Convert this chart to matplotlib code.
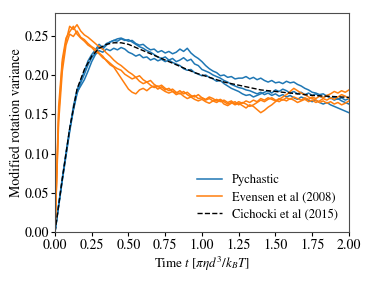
"""Modified rotation variance vs time: Pychastic runs, Evensen et al, Cichocki et al."""
import numpy as np
import matplotlib
matplotlib.use("Agg")
import matplotlib.pyplot as plt

plt.rcParams["font.family"] = ["STIXGeneral", "DejaVu Serif"]
plt.rcParams["mathtext.fontset"] = "stix"
plt.rcParams["font.size"] = 10

# time grid of the sampled trajectories (step 0.025)
t = np.linspace(0.0, 2.0, 81)

pychastic_1 = [
    0, 0.033, 0.066, 0.097, 0.128, 0.155, 0.176, 0.190, 0.201, 0.213, 0.222,
    0.228, 0.236, 0.233, 0.238, 0.242, 0.244, 0.246, 0.247, 0.245, 0.243,
    0.244, 0.240, 0.238, 0.239, 0.235, 0.232, 0.233, 0.229, 0.231, 0.228,
    0.230, 0.227, 0.229, 0.233, 0.230, 0.234, 0.228, 0.224, 0.221, 0.217,
    0.212, 0.208, 0.205, 0.203, 0.199, 0.200, 0.197, 0.198, 0.195, 0.196,
    0.196, 0.198, 0.195, 0.197, 0.194, 0.196, 0.193, 0.191, 0.193, 0.190,
    0.191, 0.189, 0.192, 0.190, 0.191, 0.188, 0.186, 0.183, 0.181, 0.178,
    0.177, 0.175, 0.176, 0.173, 0.171, 0.168, 0.170, 0.167, 0.165, 0.163,
]
pychastic_2 = [
    0, 0.035, 0.069, 0.101, 0.131, 0.156, 0.178, 0.186, 0.194, 0.205, 0.217,
    0.226, 0.231, 0.229, 0.233, 0.231, 0.234, 0.232, 0.235, 0.233, 0.229,
    0.227, 0.224, 0.226, 0.222, 0.223, 0.219, 0.221, 0.218, 0.220, 0.217,
    0.219, 0.216, 0.214, 0.212, 0.208, 0.206, 0.207, 0.203, 0.201, 0.199,
    0.200, 0.197, 0.195, 0.192, 0.193, 0.189, 0.186, 0.183, 0.181, 0.179,
    0.176, 0.174, 0.175, 0.172, 0.174, 0.176, 0.178, 0.180, 0.177, 0.181,
    0.179, 0.182, 0.180, 0.177, 0.179, 0.176, 0.178, 0.175, 0.177, 0.174,
    0.176, 0.173, 0.171, 0.174, 0.170, 0.172, 0.169, 0.171, 0.168, 0.170,
]
pychastic_3 = [
    0, 0.034, 0.067, 0.099, 0.130, 0.160, 0.181, 0.193, 0.205, 0.218, 0.226,
    0.232, 0.239, 0.235, 0.240, 0.242, 0.244, 0.243, 0.246, 0.244, 0.245,
    0.242, 0.239, 0.236, 0.234, 0.231, 0.229, 0.226, 0.223, 0.221, 0.223,
    0.219, 0.221, 0.217, 0.219, 0.222, 0.218, 0.220, 0.214, 0.212, 0.207,
    0.205, 0.203, 0.200, 0.198, 0.196, 0.193, 0.191, 0.188, 0.186, 0.184,
    0.183, 0.181, 0.180, 0.178, 0.176, 0.178, 0.175, 0.177, 0.174, 0.176,
    0.173, 0.175, 0.172, 0.174, 0.171, 0.169, 0.172, 0.170, 0.168, 0.166,
    0.168, 0.165, 0.163, 0.165, 0.162, 0.160, 0.158, 0.156, 0.154, 0.152,
]

evensen_1 = [
    0, 0.150, 0.215, 0.243, 0.262, 0.258, 0.264, 0.256, 0.251, 0.248, 0.244,
    0.240, 0.236, 0.233, 0.228, 0.224, 0.219, 0.215, 0.212, 0.208, 0.204,
    0.201, 0.197, 0.199, 0.194, 0.191, 0.193, 0.188, 0.185, 0.187, 0.183,
    0.180, 0.182, 0.178, 0.176, 0.179, 0.175, 0.172, 0.174, 0.170, 0.171,
    0.168, 0.170, 0.167, 0.169, 0.166, 0.168, 0.165, 0.167, 0.163, 0.166,
    0.164, 0.167, 0.165, 0.168, 0.166, 0.170, 0.168, 0.171, 0.169, 0.167,
    0.170, 0.168, 0.171, 0.169, 0.172, 0.170, 0.168, 0.171, 0.169, 0.172,
    0.170, 0.173, 0.171, 0.174, 0.176, 0.179, 0.177, 0.180, 0.178, 0.181,
]
evensen_2 = [
    0, 0.140, 0.205, 0.238, 0.252, 0.249, 0.256, 0.248, 0.245, 0.240, 0.236,
    0.233, 0.228, 0.224, 0.218, 0.213, 0.210, 0.203, 0.196, 0.189, 0.182,
    0.178, 0.176, 0.181, 0.183, 0.180, 0.184, 0.186, 0.182, 0.185, 0.181,
    0.183, 0.179, 0.177, 0.180, 0.176, 0.178, 0.174, 0.172, 0.175, 0.171,
    0.169, 0.172, 0.170, 0.167, 0.169, 0.166, 0.163, 0.165, 0.162, 0.164,
    0.161, 0.158, 0.162, 0.160, 0.156, 0.152, 0.155, 0.159, 0.162, 0.166,
    0.169, 0.172, 0.175, 0.179, 0.183, 0.180, 0.177, 0.175, 0.172, 0.170,
    0.168, 0.165, 0.167, 0.164, 0.166, 0.163, 0.165, 0.162, 0.164, 0.167,
]
evensen_3 = [
    0, 0.160, 0.220, 0.247, 0.255, 0.262, 0.252, 0.247, 0.243, 0.238, 0.235,
    0.230, 0.227, 0.222, 0.219, 0.215, 0.211, 0.208, 0.206, 0.201, 0.198,
    0.195, 0.197, 0.192, 0.189, 0.191, 0.187, 0.184, 0.186, 0.182, 0.179,
    0.177, 0.179, 0.175, 0.177, 0.173, 0.170, 0.172, 0.169, 0.167, 0.169,
    0.166, 0.164, 0.167, 0.165, 0.168, 0.163, 0.161, 0.164, 0.166, 0.162,
    0.165, 0.163, 0.160, 0.162, 0.165, 0.168, 0.166, 0.169, 0.171, 0.168,
    0.166, 0.169, 0.167, 0.170, 0.168, 0.165, 0.167, 0.169, 0.166, 0.168,
    0.165, 0.167, 0.170, 0.168, 0.171, 0.169, 0.172, 0.175, 0.173, 0.170,
]

# analytic curve (Cichocki et al 2015), step 0.05
t_theory = np.linspace(0.0, 2.0, 41)
cichocki = [
    0.0, 0.068, 0.132, 0.182, 0.207, 0.224, 0.234, 0.239, 0.241, 0.241,
    0.239, 0.235, 0.231, 0.227, 0.223, 0.219, 0.215, 0.211, 0.207, 0.203,
    0.200, 0.197, 0.194, 0.191, 0.189, 0.187, 0.185, 0.183, 0.181, 0.180,
    0.179, 0.178, 0.177, 0.176, 0.175, 0.174, 0.1735, 0.173, 0.1725, 0.172,
    0.1715,
]

fig = plt.figure(figsize=(3.74, 2.81), dpi=100)
ax = fig.add_axes([0.147, 0.174, 0.786, 0.780])

blue, orange = "#1f77b4", "#ff7f0e"
for i, y in enumerate([pychastic_1, pychastic_2, pychastic_3]):
    ax.plot(t, y, color=blue, lw=1.1, label="Pychastic" if i == 0 else None)
for i, y in enumerate([evensen_1, evensen_2, evensen_3]):
    ax.plot(t, y, color=orange, lw=1.1,
            label="Evensen et al (2008)" if i == 0 else None)
ax.plot(t_theory, cichocki, color="black", ls="--", lw=1.0,
        label="Cichocki et al (2015)")

ax.set_xlim(0, 2.0)
ax.set_ylim(0, 0.279)
ax.set_xticks(np.arange(0, 2.01, 0.25))
ax.set_yticks(np.arange(0, 0.251, 0.05))
ax.xaxis.set_major_formatter(matplotlib.ticker.FormatStrFormatter("%.2f"))
ax.yaxis.set_major_formatter(matplotlib.ticker.FormatStrFormatter("%.2f"))
ax.tick_params(length=3, width=0.8, pad=1.5)
for sp in ax.spines.values():
    sp.set_color("0.3")
    sp.set_linewidth(0.8)

ax.set_xlabel(r"Time $t$ [$\pi\eta d^3/k_BT$]", fontsize=9.4, labelpad=2)
ax.set_ylabel("Modified rotation variance", fontsize=10, labelpad=1)
ax.legend(loc="lower right", frameon=False, fontsize=9,
          handlelength=2.0, labelspacing=0.45, handletextpad=0.8)

fig.savefig("out.png", dpi=100)
